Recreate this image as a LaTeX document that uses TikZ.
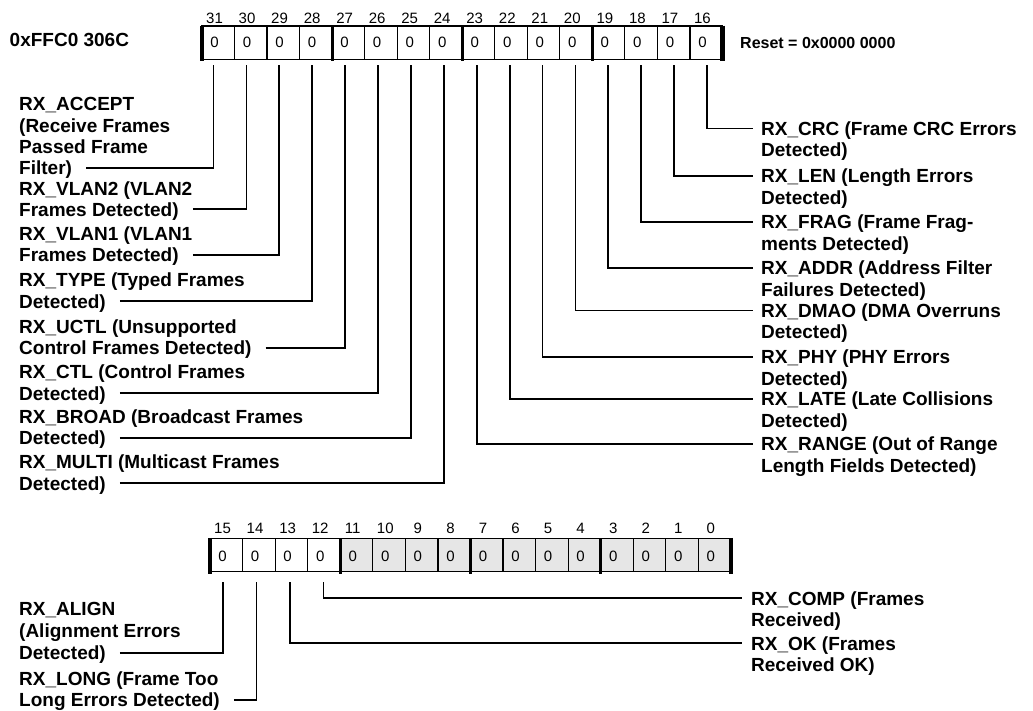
\documentclass[tikz,border=0pt]{standalone}
\usepackage{fontspec}
\setmainfont{Liberation Sans}
\definecolor{cellgray}{RGB}{230,230,230}
\tikzset{
  lbl/.style={anchor=base west, inner sep=0pt, font=\fontsize{19}{21.5}\selectfont\bfseries},
  rst/.style={anchor=base west, inner sep=0pt, font=\fontsize{16}{19}\selectfont\bfseries},
  bitnum/.style={anchor=base, inner sep=0pt, font=\fontsize{15}{17}\selectfont},
  leader/.style={line width=1.8pt},
  cell/.style={line width=1.2pt},
  grpbar/.style={line width=3pt},
  endbar/.style={line width=4.5pt},
}
\begin{document}
\begin{tikzpicture}[x=1pt,y=-1pt]
\useasboundingbox[fill=white] (0,0) rectangle (1033,710);

% ---------- top register (bits 31..16)
\draw[cell] (202,26) rectangle (722.5,59.5);
\foreach \k in {1,...,15} \draw[cell] ({202+32.53*\k},26) -- ({202+32.53*\k},59.5);
\foreach \k in {4,8,12} \draw[grpbar] ({202+32.53*\k},26) -- ({202+32.53*\k},61);
\draw[endbar] (202,25.5) -- (202,61);
\draw[endbar] (722.5,25.5) -- (722.5,61);
\foreach \k in {0,...,15}{
  \pgfmathtruncatemacro\b{31-\k}
  \node[bitnum] (n\b) at ({214.5+32.53*\k},23.5) {\b};
  \node[bitnum] (v\b) at ({214.5+32.53*\k},47.5) {0};
  \coordinate (t\b) at ({213.5+32.9*\k},65);
}

% ---------- bottom register (bits 15..0)
\fill[cellgray] ({210+32.56*4},538.3) rectangle (731,571.7);
\draw[cell] (210,538.3) rectangle (731,571.7);
\foreach \k in {1,...,15} \draw[cell] ({210+32.56*\k},538.3) -- ({210+32.56*\k},571.7);
\foreach \k in {4,8,12} \draw[grpbar] ({210+32.56*\k},538.3) -- ({210+32.56*\k},573.5);
\draw[endbar] (210,537.8) -- (210,573.5);
\draw[endbar] (731,537.8) -- (731,573.5);
\foreach \k in {0,...,15}{
  \pgfmathtruncatemacro\b{15-\k}
  \node[bitnum] (n\b) at ({222.5+32.56*\k},533.5) {\b};
  \node[bitnum] (v\b) at ({222.5+32.56*\k},561.5) {0};
}
\foreach \k in {0,...,3}{
  \pgfmathtruncatemacro\b{15-\k}
  \coordinate (b\b) at ({223+33.5*\k},582);
}

% ---------- header texts
\node[lbl] (addr) at (9.5,46.7) {0xFFC0 306C};
\node[rst] (reset) at (740,48.3) {Reset = 0x0000 0000};

% ---------- left labels
\node[lbl] (acc1) at (19,110.7) {RX\_ACCEPT};
\node[lbl] (acc2) at (19,132) {(Receive Frames};
\node[lbl] (acc3) at (19,153.3) {Passed Frame};
\node[lbl] (acc4) at (19,174.7) {Filter)};
\node[lbl] (vl2a) at (19,195) {RX\_VLAN2 (VLAN2};
\node[lbl] (vl2b) at (19,216) {Frames Detected)};
\node[lbl] (vl1a) at (19,240) {RX\_VLAN1 (VLAN1};
\node[lbl] (vl1b) at (19,261.5) {Frames Detected)};
\node[lbl] (typa) at (19,286.5) {RX\_TYPE (Typed Frames};
\node[lbl] (typb) at (19,308) {Detected)};
\node[lbl] (ucta) at (19,333) {RX\_UCTL (Unsupported};
\node[lbl] (uctb) at (19,354.5) {Control Frames Detected)};
\node[lbl] (ctla) at (19,378.5) {RX\_CTL (Control Frames};
\node[lbl] (ctlb) at (19,400) {Detected)};
\node[lbl] (broa) at (19,423) {RX\_BROAD (Broadcast Frames};
\node[lbl] (brob) at (19,444.5) {Detected)};
\node[lbl] (mula) at (19,468.5) {RX\_MULTI (Multicast Frames};
\node[lbl] (mulb) at (19,490) {Detected)};

\draw[leader] ([xshift=14pt,yshift=6.7pt]acc4.base east) -| (t31);
\draw[leader] ([xshift=14pt,yshift=6.7pt]vl2b.base east) -| (t30);
\draw[leader] ([xshift=14pt,yshift=6.7pt]vl1b.base east) -| (t29);
\draw[leader] ([xshift=14pt,yshift=6.7pt]typb.base east) -| (t28);
\draw[leader] ([xshift=14pt,yshift=6.7pt]uctb.base east) -| (t27);
\draw[leader] ([xshift=14pt,yshift=6.7pt]ctlb.base east) -| (t26);
\draw[leader] ([xshift=14pt,yshift=6.7pt]brob.base east) -| (t25);
\draw[leader] ([xshift=14pt,yshift=6.7pt]mulb.base east) -| (t24);

% ---------- right labels
\node[lbl] (crca) at (761,135.2) {RX\_CRC (Frame CRC Errors};
\node[lbl] (crcb) at (761,156.9) {Detected)};
\node[lbl] (lena) at (761,182.7) {RX\_LEN (Length Errors};
\node[lbl] (lenb) at (761,204.4) {Detected)};
\node[lbl] (fraa) at (761,228.4) {RX\_FRAG (Frame Frag-};
\node[lbl] (frab) at (761,250.1) {ments Detected)};
\node[lbl] (adda) at (761,274.5) {RX\_ADDR (Address Filter};
\node[lbl] (addb) at (761,296) {Failures Detected)};
\node[lbl] (dmaa) at (761,317.2) {RX\_DMAO (DMA Overruns};
\node[lbl] (dmab) at (761,338.9) {Detected)};
\node[lbl] (phya) at (761,363.7) {RX\_PHY (PHY Errors};
\node[lbl] (phyb) at (761,385.4) {Detected)};
\node[lbl] (lata) at (761,405.7) {RX\_LATE (Late Collisions};
\node[lbl] (latb) at (761,427.4) {Detected)};
\node[lbl] (rnga) at (761,450.4) {RX\_RANGE (Out of Range};
\node[lbl] (rngb) at (761,472.1) {Length Fields Detected)};

\draw[leader] (t16) |- ([xshift=-8pt,yshift=6.7pt]crca.base west);
\draw[leader] (t17) |- ([xshift=-8pt,yshift=6.7pt]lena.base west);
\draw[leader] (t18) |- ([xshift=-8pt,yshift=6.7pt]fraa.base west);
\draw[leader] (t19) |- ([xshift=-8pt,yshift=6.7pt]adda.base west);
\draw[leader] (t20) |- ([xshift=-8pt,yshift=6.7pt]dmaa.base west);
\draw[leader] (t21) |- ([xshift=-8pt,yshift=6.7pt]phya.base west);
\draw[leader] (t22) |- ([xshift=-8pt,yshift=6.7pt]lata.base west);
\draw[leader] (t23) |- ([xshift=-8pt,yshift=6.7pt]rnga.base west);

% ---------- bottom labels
\node[lbl] (ali1) at (19,615.7) {RX\_ALIGN};
\node[lbl] (ali2) at (19,637.7) {(Alignment Errors};
\node[lbl] (ali3) at (19,659.7) {Detected)};
\node[lbl] (lona) at (19,685) {RX\_LONG (Frame Too};
\node[lbl] (lonb) at (19,706.5) {Long Errors Detected)};
\node[lbl] (cmpa) at (751,605) {RX\_COMP (Frames};
\node[lbl] (cmpb) at (751,626.7) {Received)};
\node[lbl] (oka) at (751,650) {RX\_OK (Frames};
\node[lbl] (okb) at (751,671.7) {Received OK)};

\draw[leader] ([xshift=14pt,yshift=6.7pt]ali3.base east) -| (b15);
\draw[leader] ([xshift=14pt,yshift=6.7pt]lonb.base east) -| (b14);
\draw[leader] (b13) |- ([xshift=-9pt,yshift=6.7pt]oka.base west);
\draw[leader] (b12) |- ([xshift=-9pt,yshift=6.7pt]cmpa.base west);
\end{tikzpicture}
\end{document}
